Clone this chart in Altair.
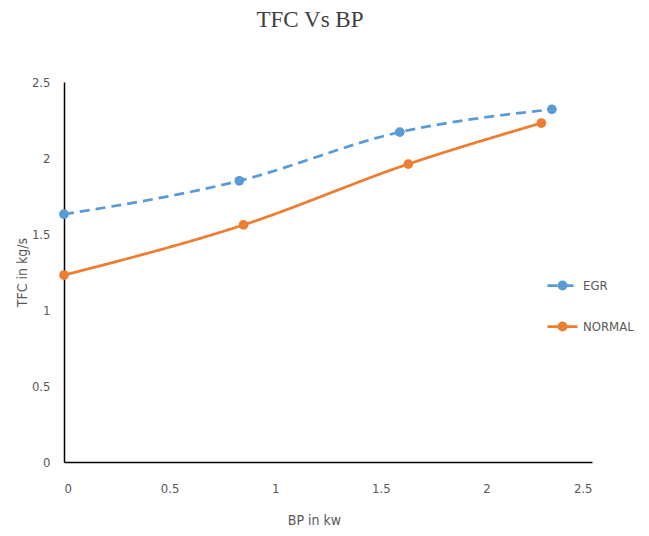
import altair as alt
import pandas as pd

series_names = ["EGR", "NORMAL"]
egr_bp = [0, 0.83, 1.59, 2.31]
egr_tfc = [1.63, 1.85, 2.17, 2.32]
normal_bp = [0, 0.85, 1.63, 2.26]
normal_tfc = [1.23, 1.56, 1.96, 2.23]
colors = ["#5B9BD5", "#ED7D31"]
axis_ticks = [0, 0.5, 1, 1.5, 2, 2.5]

rows = []
for x, y in zip(egr_bp, egr_tfc):
    rows.append({"series": "EGR", "bp": x, "tfc": y})
for x, y in zip(normal_bp, normal_tfc):
    rows.append({"series": "NORMAL", "bp": x, "tfc": y})
df = pd.DataFrame(rows)

FONT = "Liberation Sans Narrow, DejaVu Sans Condensed, sans-serif"

x_enc = alt.X("bp:Q", scale=alt.Scale(domain=[0, 2.5], nice=False),
              axis=alt.Axis(values=axis_ticks, format="~g", title="BP in kw",
                            titleX=250, titleY=58, titleBaseline="middle",
                            labelPadding=20))
y_enc = alt.Y("tfc:Q", scale=alt.Scale(domain=[0, 2.5], nice=False),
              axis=alt.Axis(values=axis_ticks, format="~g", title="TFC in kg/s",
                            titleX=-42, titleY=190, titleBaseline="middle",
                            titleAngle=-90, labelPadding=14))

legend_common = dict(orient="none", legendX=492, legendY=197, title=None,
                     symbolSize=100, rowPadding=27, labelFontSize=13, labelFont=FONT,
                     labelColor="#595959", labelOffset=14, padding=0)

lines = alt.Chart(df).mark_line(interpolate="monotone", strokeWidth=2.75).encode(
    x=x_enc, y=y_enc,
    color=alt.Color("series:N", scale=alt.Scale(domain=series_names, range=colors),
                    legend=alt.Legend(symbolType="M-3,0H3", symbolStrokeWidth=2.75,
                                      **legend_common)),
    strokeDash=alt.StrokeDash("series:N", scale=alt.Scale(domain=series_names,
                                                          range=[[10, 6], [1, 0]])),
)

points = alt.Chart(df).mark_point(filled=True, size=95, opacity=1).encode(
    x="bp:Q", y="tfc:Q",
    fill=alt.Fill("series:N", scale=alt.Scale(range=colors),
                  legend=alt.Legend(symbolType="circle", symbolOpacity=1,
                                    labelOpacity=0, **legend_common)),
)

chart = alt.layer(lines, points).properties(
    width=528, height=380,
    background="white",
    autosize=alt.AutoSizeParams(type="none"),
    padding={"left": 64, "top": 82, "right": 57, "bottom": 94},
    title=alt.TitleParams("TFC Vs BP", font="Liberation Serif", fontSize=23,
                          fontWeight="normal", color="#404040", anchor="middle",
                          dx=-18, offset=26, baseline="alphabetic"),
).configure_view(stroke=None).configure_axis(
    grid=False, ticks=False, domainColor="#000000", domainWidth=1.5,
    labelColor="#595959", labelFontSize=13, labelFont=FONT,
    titleColor="#595959", titleFontSize=14, titleFont=FONT, titleFontWeight="normal",
)

chart.save("out.html", embed_options={"renderer": "svg", "actions": False})
